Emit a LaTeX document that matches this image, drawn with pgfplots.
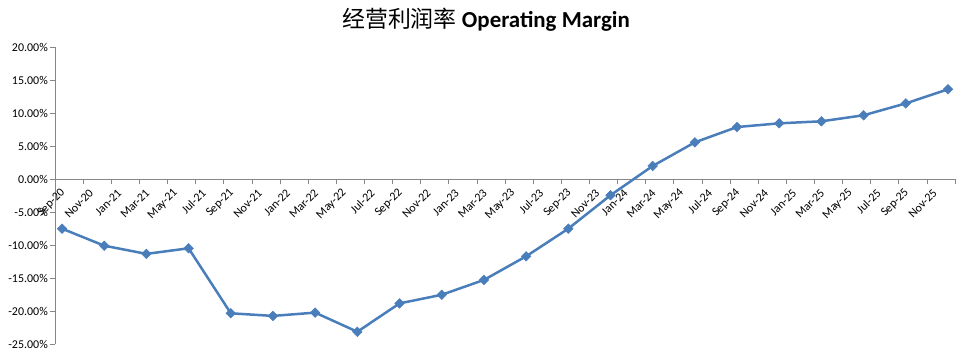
\documentclass[border=0pt]{standalone}
\usepackage{fontspec}
\setmainfont{Carlito}
\newfontfamily\cjk{Noto Sans CJK SC}
\usepackage{pgfplots}
\pgfplotsset{compat=1.18}
\definecolor{ser}{HTML}{4A7EBB}
\definecolor{axgray}{HTML}{868686}
\begin{document}
\begin{tikzpicture}
\useasboundingbox (0,0) rectangle (969bp,351bp);
\node[font=\fontsize{23}{26}\selectfont, inner sep=0pt] at (486bp,331bp) {{\cjk 经营利润率} \textbf{Operating Margin}};
\begin{axis}[
  at={(55bp,6.7bp)}, anchor=south west,
  scale only axis, width=900bp, height=297bp,
  xmin=0, xmax=64, ymin=-25, ymax=20,
  axis x line*=middle, axis y line*=left,
  hide obscured x ticks=false, hide obscured y ticks=false,
  axis line style={draw=axgray, line width=0.75bp},
  every tick/.style={draw=axgray, line width=0.75bp},
  tick align=outside, major tick length=5bp,
  xtick={0,2,...,64},
  xticklabels={Sep-20,Nov-20,Jan-21,Mar-21,May-21,Jul-21,Sep-21,Nov-21,Jan-22,Mar-22,May-22,Jul-22,Sep-22,Nov-22,Jan-23,Mar-23,May-23,Jul-23,Sep-23,Nov-23,Jan-24,Mar-24,May-24,Jul-24,Sep-24,Nov-24,Jan-25,Mar-25,May-25,Jul-25,Sep-25,Nov-25,{}},
  ytick={-25,-20,...,20},
  yticklabels={-25.00\%,-20.00\%,-15.00\%,-10.00\%,-5.00\%,0.00\%,5.00\%,10.00\%,15.00\%,20.00\%},
  tick label style={font=\fontsize{12}{14}\selectfont, text=black},
  xticklabel style={xshift=9bp, yshift=-6bp, rotate=45, anchor=east, inner sep=1bp},
  yticklabel style={inner sep=2bp},
  clip=false,
]
\addplot[color=ser, line width=2.5bp, mark=square*, mark size=3.4bp, mark options={rotate=45, fill=ser, draw=ser, line width=0.5bp}] coordinates {
(0.5,-7.48) (3.5,-10.06) (6.5,-11.3) (9.5,-10.45) (12.5,-20.3) (15.5,-20.7)
(18.5,-20.2) (21.5,-23.1) (24.5,-18.8) (27.5,-17.5) (30.5,-15.25) (33.5,-11.67)
(36.5,-7.48) (39.5,-2.42) (42.5,2.02) (45.5,5.6) (48.5,7.92) (51.5,8.48)
(54.5,8.79) (57.5,9.7) (60.5,11.5) (63.5,13.64)
};
\end{axis}
\end{tikzpicture}
\end{document}
